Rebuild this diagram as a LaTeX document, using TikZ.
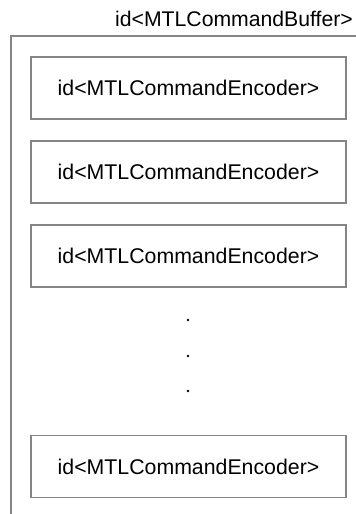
\documentclass[tikz,border=0pt]{standalone}
\usepackage{fontspec}
\setmainfont{Liberation Sans}
\begin{document}
\begin{tikzpicture}[x=1pt,y=-1pt,
  frameline/.style={draw=black!48,line width=1.6pt},
  encbox/.style={frameline,fill=white,minimum width=315pt,minimum height=62pt,inner sep=0pt,font=\fontsize{21.3}{24}\selectfont},
  dotmark/.style={circle,fill=black,inner sep=0pt,minimum size=2.8pt}]
\useasboundingbox (0,0) rectangle (356,514);
\coordinate (tr) at (356,36);
\coordinate (tl) at (11,36);
\coordinate (bl) at (11,514);
\draw[frameline] (tr) -- (tl) -- (bl);
\node[anchor=base east,inner sep=0pt,font=\fontsize{21.2}{24}\selectfont] (buf) at (353,26.5) {id<MTLCommandBuffer>};
\node[encbox] (e1) at (188.5,88) {id<MTLCommandEncoder>};
\node[encbox] (e2) at (188.5,172) {id<MTLCommandEncoder>};
\node[encbox] (e3) at (188.5,256) {id<MTLCommandEncoder>};
\node[encbox] (e4) at (188.5,466.5) {id<MTLCommandEncoder>};
\node[dotmark] (d1) at (188,320) {};
\node[dotmark] (d2) at (188,356) {};
\node[dotmark] (d3) at (188,391) {};
\end{tikzpicture}
\end{document}
